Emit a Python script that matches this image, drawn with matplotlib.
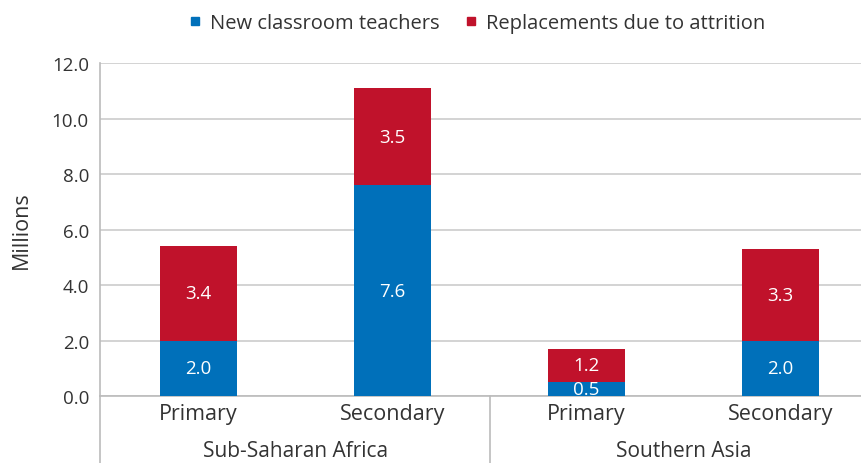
import matplotlib.pyplot as plt
from matplotlib.lines import Line2D

plt.rcParams['font.family'] = ['Open Sans', 'DejaVu Sans']

# data
categories = ['Primary', 'Secondary', 'Primary', 'Secondary']
groups = ['Sub-Saharan Africa', 'Southern Asia']
new_teachers = [2.0, 7.6, 0.5, 2.0]
replacements = [3.4, 3.5, 1.2, 3.3]
series_names = ['New classroom teachers', 'Replacements due to attrition']

blue = '#0070BA'
red = '#C0122B'
grey = '#BBBBBB'
txt = '#333333'

fig = plt.figure(figsize=(8.62, 4.64), dpi=100)
ax = fig.add_axes([0.116, 0.1444, 0.884, 0.7176])

x = list(range(len(categories)))
w = 0.4
ax.bar(x, new_teachers, width=w, color=blue, zorder=3)
ax.bar(x, replacements, width=w, bottom=new_teachers, color=red, zorder=3)

for i in x:
    ax.text(i, new_teachers[i] / 2, f'{new_teachers[i]:.1f}', ha='center', va='center',
            color='white', fontsize=13.5, zorder=4)
    ax.text(i, new_teachers[i] + replacements[i] / 2, f'{replacements[i]:.1f}', ha='center',
            va='center', color='white', fontsize=13.5, zorder=4)

ax.set_ylim(0, 12)
ax.set_xlim(-0.508, 3.42)
ax.set_yticks([0, 2, 4, 6, 8, 10, 12])
ax.set_yticklabels([f'{v:.1f}' for v in [0, 2, 4, 6, 8, 10, 12]])
ax.yaxis.grid(True, color='#CCCCCC', linewidth=1.2, zorder=0)
ax.tick_params(axis='y', length=0, labelsize=13.5, labelcolor=txt, pad=8)
ax.set_xticks(x)
ax.set_xticklabels(categories)
ax.tick_params(axis='x', length=0, labelsize=15.5, labelcolor=txt, pad=5)
ax.set_ylabel('Millions', fontsize=15.5, color=txt, labelpad=14)

for s in ['top', 'right']:
    ax.spines[s].set_visible(False)
ax.spines['bottom'].set_color(grey)
ax.spines['left'].set_color(grey)
ax.spines['left'].set_linewidth(1.2)
ax.spines['bottom'].set_linewidth(1.2)

# extend left spine and separator below axis
ax.plot([-0.508, -0.508], [0, -2.4], color=grey, lw=1.2, clip_on=False)
ax.plot([1.5, 1.5], [0, -2.4], color=grey, lw=1.2, clip_on=False)

ax.text(0.5, -1.98, groups[0], ha='center', va='center', fontsize=15, color=txt)
ax.text(2.5, -1.98, groups[1], ha='center', va='center', fontsize=15, color=txt)

handles = [Line2D([], [], marker='s', ls='', color=blue, markersize=6),
           Line2D([], [], marker='s', ls='', color=red, markersize=6)]
fig.legend(handles, series_names, loc='center', bbox_to_anchor=(0.55, 0.948), ncol=2,
           frameon=False, fontsize=14.5, handletextpad=0.1, columnspacing=1.0,
           handlelength=1.2, labelcolor=txt)

fig.savefig('out.png', dpi=100)
